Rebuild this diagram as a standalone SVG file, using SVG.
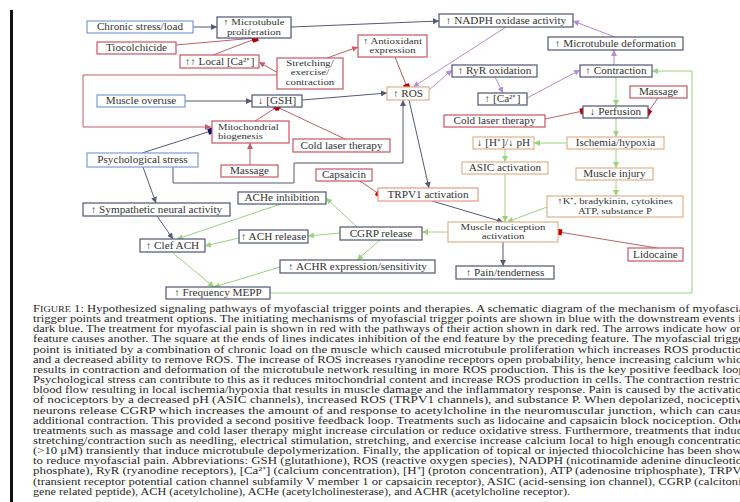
<svg xmlns="http://www.w3.org/2000/svg" width="740" height="502" viewBox="0 0 740 502">
<defs>
<style>
.bx{fill:#fff;stroke-width:1.2}
.b{stroke:#7b9cd4}
.d{stroke:#4e5572}
.r{stroke:#c65660}
.o{stroke:#e3b18a}
.t{font-family:"Liberation Serif","Times New Roman",serif;font-size:10px;fill:#333;text-anchor:middle;transform-box:fill-box;transform-origin:center;transform:scaleX(1.12)}
.t2{font-family:"Liberation Serif","Times New Roman",serif;font-size:9px;fill:#333;text-anchor:middle;transform-box:fill-box;transform-origin:center;transform:scaleX(1.2)}
.ls{font-family:"Liberation Serif","Times New Roman",serif;font-size:9px;fill:#333;text-anchor:start}
.cap{font-family:"Liberation Serif","Times New Roman",serif;font-size:10px;fill:#2a2a2a}
.cd{fill:none;stroke:#555b72;stroke-width:1;marker-end:url(#ad)}
.cp{fill:none;stroke:#b88ad8;stroke-width:1;marker-end:url(#ap)}
.cg{fill:none;stroke:#9ad27e;stroke-width:1;marker-end:url(#ag)}
.cr{fill:none;stroke:#c0606a;stroke-width:1;marker-end:url(#ar)}
.ci{fill:none;stroke:#c0606a;stroke-width:1;marker-end:url(#ir)}
.cb{fill:none;stroke:#4e5a8a;stroke-width:1;marker-end:url(#ib)}
</style>
<marker id="ad" markerUnits="userSpaceOnUse" markerWidth="6" markerHeight="6" refX="6" refY="3" orient="auto"><path d="M0,0 L6,3 L0,6 z" fill="#555b72"/></marker>
<marker id="ap" markerUnits="userSpaceOnUse" markerWidth="6" markerHeight="6" refX="6" refY="3" orient="auto"><path d="M0,0 L6,3 L0,6 z" fill="#b88ad8"/></marker>
<marker id="ag" markerUnits="userSpaceOnUse" markerWidth="6" markerHeight="6" refX="6" refY="3" orient="auto"><path d="M0,0 L6,3 L0,6 z" fill="#9ad27e"/></marker>
<marker id="ar" markerUnits="userSpaceOnUse" markerWidth="6" markerHeight="6" refX="6" refY="3" orient="auto"><path d="M0,0 L6,3 L0,6 z" fill="#c0606a"/></marker>
<marker id="ir" markerUnits="userSpaceOnUse" markerWidth="7" markerHeight="7" refX="3.5" refY="3.5" orient="auto"><rect x="0.5" y="0.5" width="6" height="6" fill="#c00000"/></marker>
<marker id="ib" markerUnits="userSpaceOnUse" markerWidth="7" markerHeight="7" refX="3.5" refY="3.5" orient="auto"><rect x="0.5" y="0.5" width="6" height="6" fill="#141460"/></marker>
</defs>
<rect width="740" height="502" fill="#fff"/>
<rect x="10" y="10" width="3" height="492" fill="#111"/>

<g id="connectors">
<path class="cd" d="M193,27 L217,27"/>
<path class="cd" d="M291,27 L439,21"/>
<path class="cd" d="M185,101 L252,101"/>
<path class="cd" d="M302,100 L387,93"/>
<path class="cd" d="M173,167 V183 H294 V163 H403 V100"/>
<path class="cd" d="M409,100 L429,188"/>
<path class="cd" d="M432,201 L503,222"/>
<path class="cd" d="M503,242 V266"/>
<path class="cd" d="M143,167 L156,203"/>
<path class="cd" d="M157,216 L173,239"/>
<path class="cb" d="M142,153 L211,131"/>
<path class="cp" d="M506,27 L413,87"/>
<path class="cp" d="M429,90 L452,70"/>
<path class="cp" d="M495,77 L503,93"/>
<path class="cp" d="M527,98 L580,70"/>
<path class="cp" d="M614,65 V50"/>
<path class="cp" d="M615,37 L573,21"/>
<path class="cg" d="M616,77 V106"/>
<path class="cg" d="M616,118 V137"/>
<path class="cg" d="M567,143 H534"/>
<path class="cg" d="M505,149 V162"/>
<path class="cg" d="M616,149 V168"/>
<path class="cg" d="M616,180 V196"/>
<path class="cg" d="M505,174 V222"/>
<path class="cg" d="M547,207 L507,222"/>
<path class="cg" d="M448,232 H422"/>
<path class="cg" d="M357,227 L326,198"/>
<path class="cg" d="M340,233 L308,236"/>
<path class="cg" d="M239,238 L205,246"/>
<path class="cg" d="M281,204 L177,239"/>
<path class="cg" d="M380,240 L357,260"/>
<path class="cg" d="M280,267 L214,287"/>
<path class="cg" d="M173,253 L214,287"/>
<path class="cg" d="M270,293 H692 V71 H652"/>
<path class="ci" d="M176,45 L255,38"/>
<path class="ci" d="M213,55 L255,39"/>
<path class="cr" d="M278,73 L259,62"/>
<path class="cr" d="M327,58 L358,47"/>
<path class="cr" d="M277,75 H83 V127 H211"/>
<path class="ci" d="M395,57 L407,87" style="stroke:#a0605a"/>
<path class="ci" d="M255,121 L277,107"/>
<path class="ci" d="M345,139 L277,107"/>
<path class="cr" d="M250,165 V143"/>
<path class="ci" d="M360,181 L379,194"/>
<path class="ci" d="M545,119 L583,111"/>
<path class="ci" d="M658,98 L648,112"/>
<path class="ci" d="M657,248 L559,232"/>
</g>

<g id="chronic"><rect class="bx b" x="87" y="21" width="106" height="12"/><text class="t" x="140" y="30.5">Chronic stress/load</text></g>
<g id="mtprolif"><rect class="bx d" x="217" y="17" width="74" height="21"/><text class="t2" x="254" y="25.5">↑ Microtubule<tspan x="254" dy="9.5">proliferation</tspan></text></g>
<g id="tiocol"><rect class="bx r" x="97" y="42" width="79" height="12"/><text class="t" x="136.5" y="51.5">Tiocolchicide</text></g>
<g id="localca"><rect class="bx r" x="180" y="55" width="79" height="13"/><text class="t" x="219.5" y="65">↑↑ Local [Ca²⁺]</text></g>
<g id="stretch"><rect class="bx r" x="277" y="58" width="66" height="31"/><text class="t2" x="310" y="66">Stretching/<tspan x="310" dy="9.5">exercise/</tspan><tspan x="310" dy="9.5">contraction</tspan></text></g>
<g id="antiox"><rect class="bx r" x="358" y="35" width="69" height="22"/><text class="t2" x="392.5" y="44">↑ Antioxidant<tspan x="392.5" dy="9.5">expression</tspan></text></g>
<g id="nadph"><rect class="bx d" x="439" y="14" width="134" height="13"/><text class="t" x="506" y="24">↑ NADPH oxidase activity</text></g>
<g id="mtdeform"><rect class="bx d" x="548" y="37" width="135" height="13"/><text class="t" x="615.5" y="47">↑ Microtubule deformation</text></g>
<g id="ros"><rect class="bx o" x="387" y="87" width="42" height="13"/><text class="t" x="408" y="97">↑ ROS</text></g>
<g id="ryr"><rect class="bx d" x="452" y="65" width="85" height="12"/><text class="t" x="494.5" y="74.5">↑ RyR oxidation</text></g>
<g id="ca"><rect class="bx d" x="478" y="93" width="49" height="12"/><text class="t" x="502.5" y="102.5">↑ [Ca²⁺]</text></g>
<g id="contraction"><rect class="bx d" x="580" y="65" width="72" height="12"/><text class="t" x="616" y="74.5">↑ Contraction</text></g>
<g id="massageR"><rect class="bx r" x="630" y="86" width="57" height="12"/><text class="t" x="658.5" y="95.5">Massage</text></g>
<g id="perfusion"><rect class="bx d" x="583" y="106" width="65" height="12"/><text class="t" x="615.5" y="115.5">↓ Perfusion</text></g>
<g id="coldR"><rect class="bx r" x="444" y="115" width="101" height="12"/><text class="t" x="494.5" y="124.5">Cold laser therapy</text></g>
<g id="ischemia"><rect class="bx o" x="567" y="137" width="97" height="12"/><text class="t" x="615.5" y="146.5">Ischemia/hypoxia</text></g>
<g id="ph"><rect class="bx o" x="473" y="137" width="61" height="12"/><text class="t" x="503.5" y="146.5">↓ [H⁺]/↓ pH</text></g>
<g id="asic"><rect class="bx o" x="462" y="162" width="86" height="12"/><text class="t" x="505" y="171.5">ASIC activation</text></g>
<g id="injury"><rect class="bx o" x="576" y="168" width="77" height="12"/><text class="t" x="614.5" y="177.5">Muscle injury</text></g>
<g id="kbox"><rect class="bx o" x="547" y="196" width="136" height="21"/><text class="t2" x="615" y="204.5">↑K⁺, bradykinin, cytokines<tspan x="615" dy="9.5">ATP, substance P</tspan></text></g>
<g id="noci"><rect class="bx o" x="448" y="222" width="110" height="20"/><text class="t2" x="503" y="230">Muscle nociception<tspan x="503" dy="9.5">activation</tspan></text></g>
<g id="lidocaine"><rect class="bx r" x="628" y="248" width="55" height="13"/><text class="t" x="655.5" y="258">Lidocaine</text></g>
<g id="pain"><rect class="bx d" x="456" y="266" width="98" height="13"/><text class="t" x="505" y="276">↑ Pain/tenderness</text></g>
<g id="trpv1"><rect class="bx" style="stroke:#e79a86" x="378" y="188" width="100" height="13"/><text class="t" x="428" y="198">TRPV1 activation</text></g>
<g id="capsaicin"><rect class="bx r" x="316" y="169" width="56" height="12"/><text class="t" x="344" y="178.5">Capsaicin</text></g>
<g id="overuse"><rect class="bx b" x="97" y="95" width="88" height="12"/><text class="t" x="141" y="104.5">Muscle overuse</text></g>
<g id="gsh"><rect class="bx d" x="252" y="95" width="50" height="12"/><text class="t" x="277" y="104.5">↓ [GSH]</text></g>
<g id="mito"><rect class="bx r" x="212" y="121" width="77" height="22"/><text class="ls" x="218" y="130" transform="translate(218,0) scale(1.18,1) translate(-218,0)">Mitochondrial<tspan x="218" dy="9.5">biogenesis</tspan></text></g>
<g id="coldL"><rect class="bx r" x="293" y="139" width="97" height="13"/><text class="t" x="341.5" y="149">Cold laser therapy</text></g>
<g id="massageL"><rect class="bx r" x="221" y="165" width="57" height="12"/><text class="t" x="249.5" y="174.5">Massage</text></g>
<g id="psych"><rect class="bx b" x="87" y="153" width="111" height="14"/><text class="t" x="142.5" y="163.5">Psychological stress</text></g>
<g id="symp"><rect class="bx d" x="83" y="203" width="147" height="13"/><text class="t" x="156.5" y="213">↑ Sympathetic neural activity</text></g>
<g id="ache"><rect class="bx d" x="238" y="192" width="88" height="12"/><text class="t" x="282" y="201.5">ACHe inhibition</text></g>
<g id="clef"><rect class="bx d" x="140" y="239" width="65" height="13"/><text class="t" x="172.5" y="249">↑ Clef ACH</text></g>
<g id="achrel"><rect class="bx d" x="239" y="230" width="69" height="13"/><text class="t" x="273.5" y="240">↑ ACH release</text></g>
<g id="cgrp"><rect class="bx d" x="340" y="227" width="82" height="13"/><text class="t" x="381" y="237">CGRP release</text></g>
<g id="achr"><rect class="bx d" x="280" y="260" width="155" height="13"/><text class="t" x="357.5" y="270">↑ ACHR expression/sensitivity</text></g>
<g id="mepp"><rect class="bx d" x="166" y="287" width="104" height="12"/><text class="t" x="218" y="296.5">↑ Frequency MEPP</text></g>

<g id="caption">
<text class="cap" x="33" y="312" textLength="715" lengthAdjust="spacingAndGlyphs">F<tspan font-size="8">IGURE</tspan> 1: Hypothesized signaling pathways of myofascial trigger points and therapies. A schematic diagram of the mechanism of myofascial</text>
<text class="cap" x="33" y="322.15" textLength="715" lengthAdjust="spacingAndGlyphs">trigger points and treatment options. The initiating mechanisms of myofascial trigger points are shown in blue with the downstream events in</text>
<text class="cap" x="33" y="332.3" textLength="715" lengthAdjust="spacingAndGlyphs">dark blue. The treatment for myofascial pain is shown in red with the pathways of their action shown in dark red. The arrows indicate how one</text>
<text class="cap" x="33" y="342.45" textLength="715" lengthAdjust="spacingAndGlyphs">feature causes another. The square at the ends of lines indicates inhibition of the end feature by the preceding feature. The myofascial trigger</text>
<text class="cap" x="33" y="352.6" textLength="715" lengthAdjust="spacingAndGlyphs">point is initiated by a combination of chronic load on the muscle which caused microtubule proliferation which increases ROS production</text>
<text class="cap" x="33" y="362.75" textLength="715" lengthAdjust="spacingAndGlyphs">and a decreased ability to remove ROS. The increase of ROS increases ryanodine receptors open probability, hence increasing calcium which</text>
<text class="cap" x="33" y="372.9" textLength="715" lengthAdjust="spacingAndGlyphs">results in contraction and deformation of the microtubule network resulting in more ROS production. This is the key positive feedback loop.</text>
<text class="cap" x="33" y="383.05" textLength="715" lengthAdjust="spacingAndGlyphs">Psychological stress can contribute to this as it reduces mitochondrial content and increase ROS production in cells. The contraction restricts</text>
<text class="cap" x="33" y="393.2" textLength="715" lengthAdjust="spacingAndGlyphs">blood flow resulting in local ischemia/hypoxia that results in muscle damage and the inflammatory response. Pain is caused by the activation</text>
<text class="cap" x="33" y="403.35" textLength="715" lengthAdjust="spacingAndGlyphs">of nociceptors by a decreased pH (ASIC channels), increased ROS (TRPV1 channels), and substance P. When depolarized, nociceptive</text>
<text class="cap" x="33" y="413.5" textLength="715" lengthAdjust="spacingAndGlyphs">neurons release CGRP which increases the amount of and response to acetylcholine in the neuromuscular junction, which can cause</text>
<text class="cap" x="33" y="423.65" textLength="715" lengthAdjust="spacingAndGlyphs">additional contraction. This provided a second positive feedback loop. Treatments such as lidocaine and capsaicin block nociception. Other</text>
<text class="cap" x="33" y="433.8" textLength="715" lengthAdjust="spacingAndGlyphs">treatments such as massage and cold laser therapy might increase circulation or reduce oxidative stress. Furthermore, treatments that induce</text>
<text class="cap" x="33" y="443.95" textLength="715" lengthAdjust="spacingAndGlyphs">stretching/contraction such as needling, electrical stimulation, stretching, and exercise increase calcium local to high enough concentration</text>
<text class="cap" x="33" y="454.1" textLength="715" lengthAdjust="spacingAndGlyphs">(&gt;10 μM) transiently that induce microtubule depolymerization. Finally, the application of topical or injected thiocolchicine has been shown</text>
<text class="cap" x="33" y="464.25" textLength="715" lengthAdjust="spacingAndGlyphs">to reduce myofascial pain. Abbreviations: GSH (glutathione), ROS (reactive oxygen species), NADPH (nicotinamide adenine dinucleotide</text>
<text class="cap" x="33" y="474.4" textLength="715" lengthAdjust="spacingAndGlyphs">phosphate), RyR (ryanodine receptors), [Ca²⁺] (calcium concentration), [H⁺] (proton concentration), ATP (adenosine triphosphate), TRPV1</text>
<text class="cap" x="33" y="484.55" textLength="715" lengthAdjust="spacingAndGlyphs">(transient receptor potential cation channel subfamily V member 1 or capsaicin receptor), ASIC (acid-sensing ion channel), CGRP (calcitonin</text>
<text class="cap" x="33" y="494.7" textLength="537" lengthAdjust="spacingAndGlyphs">gene related peptide), ACH (acetylcholine), ACHe (acetylcholinesterase), and ACHR (acetylcholine receptor).</text>
</g>
</svg>
